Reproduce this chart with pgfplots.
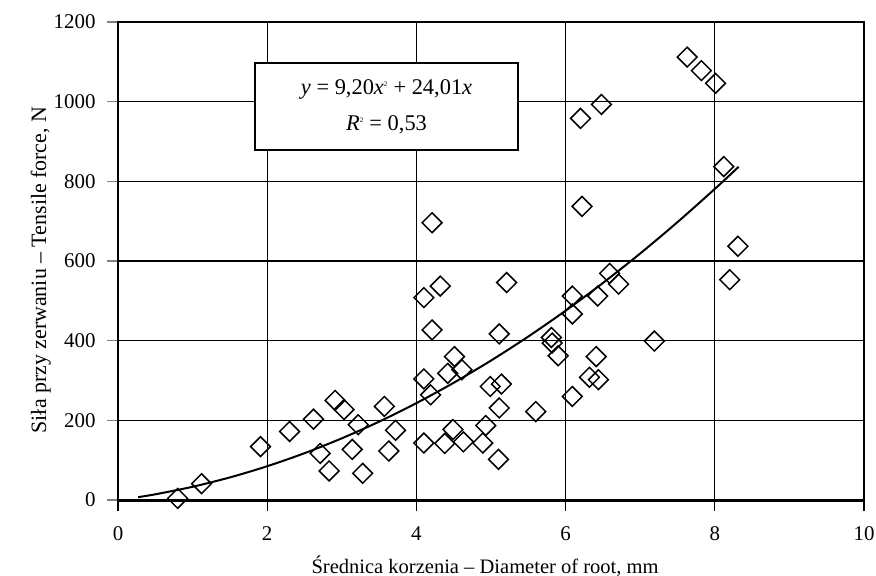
\documentclass[border=0pt]{standalone}
\usepackage{fontspec}
\setmainfont{Liberation Serif}
\usepackage{pgfplots}
\pgfplotsset{compat=1.18}

\begin{document}
\begin{tikzpicture}
\useasboundingbox (-118bp,-76bp) rectangle (758bp,500bp);
\begin{axis}[
    name=ax,
    at={(0,0)}, anchor=south west,
    scale only axis,
    width=746bp, height=478bp,
    xmin=0, xmax=10, ymin=0, ymax=1200,
    xtick={0,2,...,10}, ytick={0,200,...,1200},
    xtick pos=bottom, ytick pos=left,
    tick align=outside,
    major tick length=11bp,
    xtick style={black, line width=1.3bp},
    ytick style={gray, line width=1.5bp},
    grid=major,
    major grid style={black, line width=1.3bp},
    axis line style={black, line width=1.3bp},
    /pgf/number format/assume math mode=true,
    /pgf/number format/set thousands separator={},
    ticklabel style={font=\fontsize{21}{25}\selectfont},
    yticklabel style={xshift=-8bp},
    xticklabel style={anchor=base, yshift=-29bp},
    xlabel={Średnica korzenia – Diameter of root, mm},
    ylabel={Siła przy zerwaniu – Tensile force, N},
    xlabel style={at={(axis description cs:0.492,0)}, anchor=base, yshift=-73bp,
        font=\fontsize{20.6}{25}\selectfont},
    ylabel style={at={(axis description cs:-0.0965,0.481)}, anchor=base,
        rotate=0, font=\fontsize{22}{26}\selectfont},
    clip=false,
]
% thicker left and bottom axis lines
\draw[line width=2.5bp] (rel axis cs:0,0) -- (rel axis cs:0,1);
\draw[line width=3bp] (rel axis cs:0,0) -- (rel axis cs:1,0);

\addplot[only marks, mark=square, mark size=7bp,
    mark options={rotate=45, line width=1.5bp, black, fill=white}] coordinates {
(0.80,4) (1.12,41) (1.91,134) (2.30,172) (2.62,203) (2.71,117) (2.83,73)
(2.91,250) (3.03,227) (3.14,127) (3.22,189) (3.28,67) (3.57,235) (3.63,123)
(3.72,175) (4.10,508) (4.10,304) (4.10,143) (4.21,696) (4.21,427) (4.19,264)
(4.32,537) (4.38,142) (4.42,318) (4.49,177) (4.51,360) (4.61,327) (4.63,146)
(4.89,143) (4.93,187) (4.99,285) (5.10,102) (5.11,231) (5.11,417) (5.14,291)
(5.21,546) (5.60,222) (5.81,408) (5.82,394) (5.90,362) (6.09,512) (6.09,467)
(6.09,260) (6.20,958) (6.22,737) (6.32,308) (6.41,360) (6.43,512) (6.44,302)
(6.48,993) (6.59,569) (6.71,542) (7.19,399) (7.63,1112) (7.82,1078) (8.01,1046)
(8.12,837) (8.20,553) (8.31,637)
};

% trend line y = 9.20x^2 + 24.01x
\addplot[black, line width=2bp, smooth, no marks] coordinates {
(0.27,7.2) (0.5,14.3) (1,33.2) (1.5,56.7) (2,84.8) (2.5,117.5) (3,154.8)
(3.5,196.7) (4,243.2) (4.5,294.3) (5,350.1) (5.5,410.4) (6,475.3)
(6.5,544.8) (7,618.9) (7.5,697.6) (8,780.9) (8.32,836.6)
};

\node[draw, fill=white, line width=1.5bp, minimum width=263bp, minimum height=87bp,
      align=center, font=\fontsize{22.5}{36}\selectfont]
  at (axis cs:3.60,988)
  {\textit{y} = 9,20\textit{x}\textsuperscript{\scriptsize 2} + 24,01\textit{x}\\
   \textit{R}\textsuperscript{\scriptsize 2} = 0,53};
\end{axis}
\end{tikzpicture}
\end{document}
